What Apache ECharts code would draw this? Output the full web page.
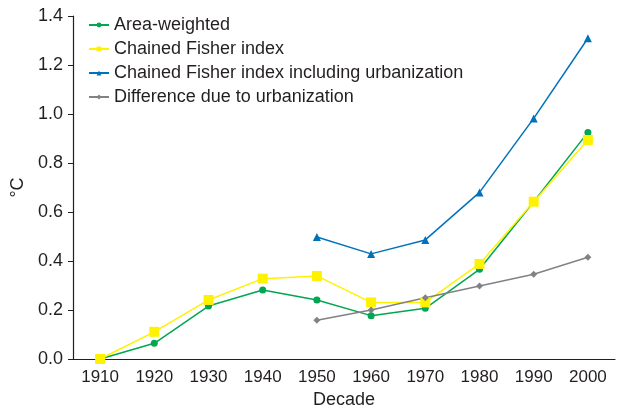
<!DOCTYPE html>
<html>
<head>
<meta charset="utf-8">
<script src="https://cdn.jsdelivr.net/npm/echarts@6/dist/echarts.min.js"></script>
<style>
  html, body { margin: 0; padding: 0; background: #fff; }
  #chart { width: 623px; height: 409px; }
</style>
</head>
<body>
<div id="chart"></div>
<script>
var decades = ['1910', '1920', '1930', '1940', '1950', '1960', '1970', '1980', '1990', '2000'];
var areaWeighted = [0.0, 0.064, 0.216, 0.282, 0.241, 0.177, 0.207, 0.366, 0.642, 0.925];
var chainedFisher = [0.0, 0.111, 0.241, 0.328, 0.339, 0.231, 0.231, 0.388, 0.642, 0.894];
var chainedUrban = [null, null, null, null, 0.498, 0.429, 0.486, 0.680, 0.982, 1.309];
var urbanDiff = [null, null, null, null, 0.158, 0.200, 0.250, 0.298, 0.346, 0.415];

var chart = echarts.init(document.getElementById('chart'));
var font = 'Liberation Sans, Arial, sans-serif';
var textColor = '#231f20';

function line(name, data, color, symbol, size) {
  return {
    name: name,
    type: 'line',
    data: data,
    symbol: symbol,
    symbolSize: size,
    showAllSymbol: true,
    connectNulls: false,
    lineStyle: { color: color, width: 1.5 },
    itemStyle: { color: color },
    emphasis: { disabled: true }
  };
}

var option = {
  animation: false,
  grid: { left: 73, right: 8, top: 16, bottom: 50, outerBoundsMode: 'none', containLabel: false },
  legend: {
    orient: 'vertical',
    left: 88,
    top: 16,
    padding: 0,
    itemGap: 6,
    itemWidth: 20,
    itemHeight: 6,
    textStyle: { fontFamily: font, fontSize: 18, color: textColor },
    data: ['Area-weighted', 'Chained Fisher index', 'Chained Fisher index including urbanization', 'Difference due to urbanization']
  },
  xAxis: {
    type: 'category',
    data: decades,
    name: 'Decade',
    nameLocation: 'middle',
    nameGap: 30,
    nameTextStyle: { fontFamily: font, fontSize: 18, color: textColor },
    axisLine: { lineStyle: { color: '#231f20', width: 1.2 } },
    axisTick: { alignWithLabel: false, length: 6, lineStyle: { color: '#231f20' } },
    axisLabel: { fontFamily: font, fontSize: 17, color: textColor, margin: 10 }
  },
  yAxis: {
    type: 'value',
    min: 0,
    max: 1.4,
    interval: 0.2,
    name: '°C',
    nameLocation: 'middle',
    nameGap: 39,
    nameTextStyle: { fontFamily: font, fontSize: 18, color: textColor },
    splitLine: { show: false },
    axisLine: { show: true, lineStyle: { color: '#231f20', width: 1.2 } },
    axisTick: { show: true, length: 5, lineStyle: { color: '#231f20' } },
    axisLabel: {
      fontFamily: font, fontSize: 18, color: textColor, margin: 10,
      formatter: function (v) { return v.toFixed(1); }
    }
  },
  series: [
    line('Area-weighted', areaWeighted, '#00a651', 'circle', 7),
    line('Chained Fisher index', chainedFisher, '#fff200', 'rect', 10),
    line('Chained Fisher index including urbanization', chainedUrban, '#0072bc', 'triangle', 8),
    line('Difference due to urbanization', urbanDiff, '#808285', 'diamond', 7)
  ]
};
chart.setOption(option);
</script>
</body>
</html>
